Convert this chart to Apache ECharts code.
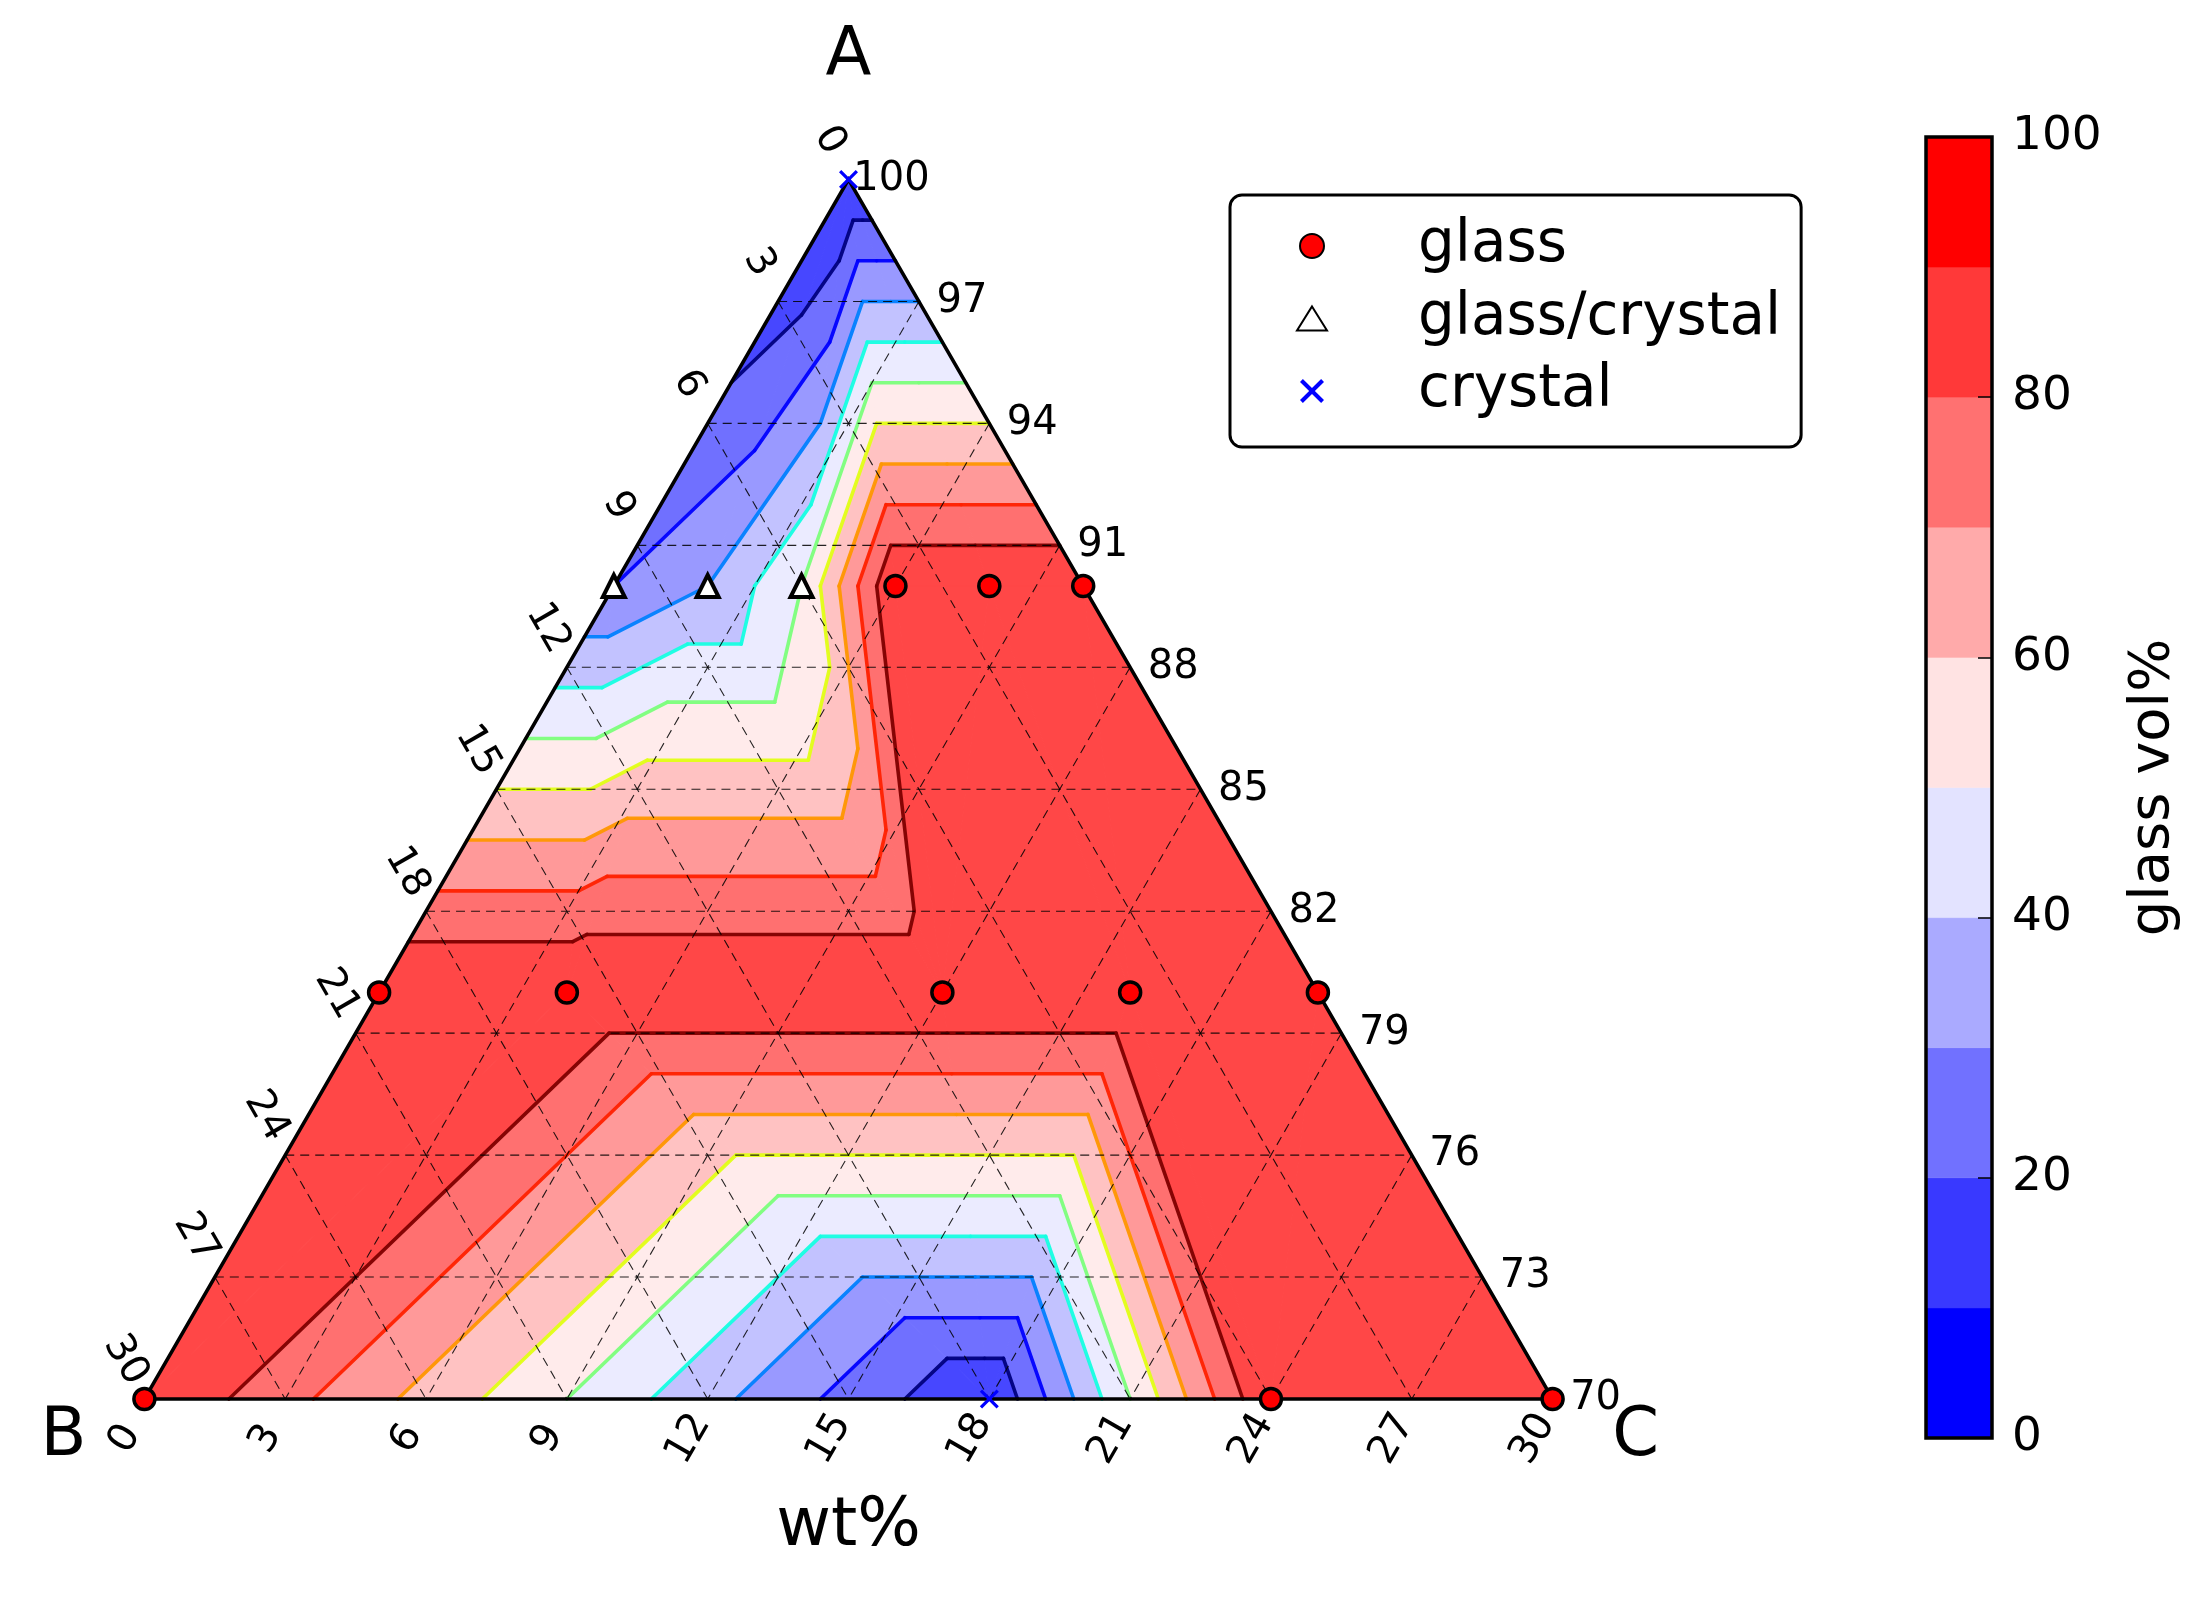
<!DOCTYPE html>
<html>
<head>
<meta charset="utf-8">
<title>glass vol% ternary</title>
<style>
  html, body { margin: 0; padding: 0; background: #fff; }
  #chart { width: 2211px; height: 1597px; }
</style>
<script src="https://cdn.jsdelivr.net/npm/echarts@6/dist/echarts.min.js"></script>
</head>
<body>
<div id="chart"></div>
<script>
// measured compositions (wt%), A + B + C = 100
const sampleA = [100, 90, 90, 90, 90, 90, 90, 80, 80, 80, 80, 80, 70, 70, 70, 70];
const sampleB = [0, 10, 8, 6, 4, 2, 0, 20, 16, 8, 4, 0, 30, 12, 6, 0];
const sampleC = [0, 0, 2, 4, 6, 8, 10, 0, 4, 12, 16, 20, 0, 18, 24, 30];
const glassVol = [0, 20, 30, 50, 100, 100, 100, 100, 100, 100, 100, 100, 100, 0, 100, 100];
const phase = ['crystal', 'glass/crystal', 'glass/crystal', 'glass/crystal', 'glass', 'glass', 'glass',
  'glass', 'glass', 'glass', 'glass', 'glass', 'glass', 'crystal', 'glass', 'glass'];

const levels = [0, 10, 20, 30, 40, 50, 60, 70, 80, 90, 100];
const lineLevels = [10, 20, 30, 40, 50, 60, 70, 80, 90];
const ticksLeft = [0, 3, 6, 9, 12, 15, 18, 21, 24, 27, 30];      // B
const ticksRight = [100, 97, 94, 91, 88, 85, 82, 79, 76, 73, 70]; // A
const ticksBottom = [0, 3, 6, 9, 12, 15, 18, 21, 24, 27, 30];    // C
const gridSteps = [3, 6, 9, 12, 15, 18, 21, 24, 27];

// styles
const FONT = 'DejaVu Sans';
const bandBase = ['#0000ff', '#3939ff', '#7171ff', '#aaaaff', '#e3e3ff',
  '#ffe3e3', '#ffaaaa', '#ff7171', '#ff3939', '#ff0000'];   // bwr, 10 steps
const lineColors = ['#000080', '#0000ff', '#0080ff', '#15ffe2', '#7bff7b',
  '#e2ff15', '#ff9700', '#ff2100', '#800000'];              // jet
const FILL_ALPHA = 0.72;

function blend(hex, a) {
  const n = parseInt(hex.slice(1), 16);
  const ch = [(n >> 16) & 255, (n >> 8) & 255, n & 255].map(c => Math.round(c * a + 255 * (1 - a)));
  return 'rgb(' + ch.join(',') + ')';
}
const bandFill = bandBase.map(c => blend(c, FILL_ALPHA));

const H = Math.sqrt(3) / 2;
// ternary (A, C) -> cartesian, B vertex at origin, side length 30
function toXY(a, c) { return [c + (a - 70) / 2, (a - 70) * H]; }

const pts = sampleA.map((a, i) => toXY(a, sampleC[i]));

// Delaunay (Bowyer-Watson); tiny shear breaks cocircular ties the same way as the original
function delaunay(p) {
  const n = p.length;
  const all = p.map(q => [q[0] + 1e-6 * q[1], q[1]]);
  all.push([-1e4, -1e4], [1e4, -1e4], [0, 1e4]);
  const circ = t => {
    const [a, b, c] = t.map(k => all[k]);
    const d = 2 * (a[0] * (b[1] - c[1]) + b[0] * (c[1] - a[1]) + c[0] * (a[1] - b[1]));
    const a2 = a[0] * a[0] + a[1] * a[1], b2 = b[0] * b[0] + b[1] * b[1], c2 = c[0] * c[0] + c[1] * c[1];
    const ux = (a2 * (b[1] - c[1]) + b2 * (c[1] - a[1]) + c2 * (a[1] - b[1])) / d;
    const uy = (a2 * (c[0] - b[0]) + b2 * (a[0] - c[0]) + c2 * (b[0] - a[0])) / d;
    return [ux, uy, (a[0] - ux) ** 2 + (a[1] - uy) ** 2];
  };
  let tris = [[n, n + 1, n + 2]];
  for (let i = 0; i < n; i++) {
    const [px, py] = all[i];
    const keep = [], edges = [];
    tris.forEach(t => {
      const [ux, uy, r2] = circ(t);
      if ((px - ux) ** 2 + (py - uy) ** 2 < r2 - 1e-9) {
        [[t[0], t[1]], [t[1], t[2]], [t[2], t[0]]].forEach(e => {
          const k = edges.findIndex(f => (f[0] === e[1] && f[1] === e[0]) || (f[0] === e[0] && f[1] === e[1]));
          if (k >= 0) edges.splice(k, 1); else edges.push(e);
        });
      } else keep.push(t);
    });
    edges.forEach(e => keep.push([e[0], e[1], i]));
    tris = keep;
  }
  return tris.filter(t => t.every(k => k < n));
}
const triangles = delaunay(pts);

// filled bands + contour lines by linear interpolation on each triangle
function clipPoly(poly, t, above) {
  const out = [];
  for (let i = 0; i < poly.length; i++) {
    const p = poly[i], q = poly[(i + 1) % poly.length];
    const pin = above ? p[2] >= t : p[2] <= t;
    const qin = above ? q[2] >= t : q[2] <= t;
    if (pin) out.push(p);
    if (pin !== qin) {
      const f = (t - p[2]) / (q[2] - p[2]);
      out.push([p[0] + f * (q[0] - p[0]), p[1] + f * (q[1] - p[1]), t]);
    }
  }
  return out;
}
function area(poly) {
  let s = 0;
  for (let i = 0; i < poly.length; i++) {
    const p = poly[i], q = poly[(i + 1) % poly.length];
    s += p[0] * q[1] - q[0] * p[1];
  }
  return Math.abs(s / 2);
}
const bandPolys = [];
const contourSegs = [];
triangles.forEach(t => {
  const tri = t.map(k => [pts[k][0], pts[k][1], glassVol[k]]);
  for (let i = 0; i < levels.length - 1; i++) {
    const poly = clipPoly(clipPoly(tri, levels[i], true), levels[i + 1], false);
    if (poly.length >= 3 && area(poly) > 1e-9) bandPolys.push({ band: i, pts: poly });
  }
  lineLevels.forEach((L, j) => {
    const cross = [];
    for (let e = 0; e < 3; e++) {
      const p = tri[e], q = tri[(e + 1) % 3];
      if ((p[2] < L) !== (q[2] < L)) {
        const f = (L - p[2]) / (q[2] - p[2]);
        cross.push([p[0] + f * (q[0] - p[0]), p[1] + f * (q[1] - p[1])]);
      }
    }
    if (cross.length === 2 && Math.hypot(cross[0][0] - cross[1][0], cross[0][1] - cross[1][1]) > 1e-9) {
      contourSegs.push({ level: j, a: cross[0], b: cross[1] });
    }
  });
});

const gridSegs = [];
gridSteps.forEach(k => {
  gridSegs.push([toXY(70 + k, 0), toXY(70 + k, 30 - k)]); // constant A
  gridSegs.push([toXY(100 - k, k), toXY(70, k)]);         // constant C
  gridSegs.push([toXY(100 - k, 0), toXY(70, 30 - k)]);    // constant B
});

function groupSeries(z, build) {
  return {
    type: 'custom', coordinateSystem: 'cartesian2d', xAxisIndex: 0, yAxisIndex: 0,
    silent: true, clip: false, z: z, data: [[0, 0]],
    renderItem: (params, api) => ({ type: 'group', children: build(api) })
  };
}
function txt(text, x, y, rot, size) {
  return {
    type: 'text', x: x, y: y, rotation: rot,
    style: { text: text, fontSize: size, fontFamily: FONT, fill: '#000', align: 'center', verticalAlign: 'middle' }
  };
}
function phasePoints(name) {
  return pts.filter((p, i) => phase[i] === name);
}

const chart = echarts.init(document.getElementById('chart'), null, { renderer: 'canvas' });

const option = {
  animation: false,
  backgroundColor: '#fff',
  grid: [
    { left: 144.4, top: 179.5, width: 1408.2, height: 1219.5, outerBoundsMode: 'none' },
    { left: 1926, top: 137, width: 66, height: 1301, outerBoundsMode: 'none' }
  ],
  xAxis: [
    { gridIndex: 0, type: 'value', min: 0, max: 30, show: false },
    { gridIndex: 1, type: 'value', min: 0, max: 1, show: false }
  ],
  yAxis: [
    { gridIndex: 0, type: 'value', min: 0, max: 30 * H, show: false },
    {
      gridIndex: 1, type: 'value', min: 0, max: 100, interval: 20, position: 'right', z: 10,
      axisLine: { show: false, onZero: false },
      axisTick: { show: true, inside: true, length: 14, lineStyle: { color: '#000', width: 1.5 } },
      axisLabel: { fontSize: 47, color: '#000', fontFamily: FONT, margin: 20 },
      splitLine: { show: false },
      name: 'glass vol%', nameLocation: 'middle', nameRotate: 90, nameGap: 133,
      nameTextStyle: { fontSize: 56, color: '#000', fontFamily: FONT }
    }
  ],
  legend: {
    left: 1230, top: 195, orient: 'vertical',
    data: ['glass', 'glass/crystal', 'crystal'],
    selectedMode: false,
    itemWidth: 30, itemHeight: 24, itemGap: 14.5,
    padding: [22, 20, 27, 66],
    backgroundColor: '#fff', borderColor: '#000', borderWidth: 3, borderRadius: 12,
    textStyle: { fontSize: 58, fontFamily: FONT, color: '#000', lineHeight: 56, padding: [0, 0, 0, 86] }
  },
  series: [
    // contour bands
    groupSeries(1, api => bandPolys.map(bp => ({
      type: 'polygon',
      shape: { points: bp.pts.map(p => api.coord([p[0], p[1]])) },
      style: { fill: bandFill[bp.band], stroke: bandFill[bp.band], lineWidth: 1, lineJoin: 'round' }
    }))),
    // contour lines
    groupSeries(2, api => contourSegs.map(s => {
      const a = api.coord(s.a), b = api.coord(s.b);
      return {
        type: 'line', shape: { x1: a[0], y1: a[1], x2: b[0], y2: b[1] },
        style: { stroke: lineColors[s.level], lineWidth: 3.6, lineCap: 'round', opacity: 0.95 }
      };
    })),
    // dashed ternary grid
    groupSeries(3, api => gridSegs.map(s => {
      const a = api.coord(s[0]), b = api.coord(s[1]);
      return {
        type: 'line', shape: { x1: a[0], y1: a[1], x2: b[0], y2: b[1] },
        style: { stroke: '#000', lineWidth: 1.1, lineDash: [9, 6], opacity: 0.85 }
      };
    })),
    // triangle outline
    groupSeries(4, api => [{
      type: 'polygon',
      shape: { points: [toXY(100, 0), toXY(70, 0), toXY(70, 30)].map(p => api.coord(p)) },
      style: { fill: 'none', stroke: '#000', lineWidth: 3.5, lineJoin: 'miter' }
    }]),
    // tick labels and corner titles
    groupSeries(5, api => {
      const out = [];
      ticksLeft.forEach(b => {
        const p = api.coord(toXY(100 - b, 0));
        out.push(txt(String(b), p[0] - 19, p[1] - 39, -Math.PI / 3, 40));
      });
      ticksRight.forEach(a => {
        const p = api.coord(toXY(a, 100 - a));
        out.push(txt(String(a), p[0] + 43, p[1], 0, 40));
      });
      ticksBottom.forEach(c => {
        const p = api.coord(toXY(70, c));
        out.push(txt(String(c), p[0] - 19, p[1] + 40, Math.PI / 3, 40));
      });
      const top = api.coord(toXY(100, 0)), bl = api.coord(toXY(70, 0)), br = api.coord(toXY(70, 30));
      out.push(txt('A', top[0], top[1] - 122, 0, 67));
      out.push(txt('B', bl[0] - 81, bl[1] + 39, 0, 67));
      out.push(txt('C', br[0] + 83, br[1] + 39, 0, 67));
      out.push(txt('wt%', (bl[0] + br[0]) / 2, bl[1] + 129, 0, 67));
      return out;
    }),
    {
      name: 'glass', type: 'scatter', z: 6, clip: false, silent: true,
      data: phasePoints('glass'), symbol: 'circle', symbolSize: 21,
      itemStyle: { color: '#ff0000', borderColor: '#000', borderWidth: 3.5, opacity: 1 }
    },
    {
      name: 'glass/crystal', type: 'scatter', z: 6, clip: false, silent: true,
      data: phasePoints('glass/crystal'), symbol: 'triangle', symbolSize: 22,
      itemStyle: { color: '#fff', borderColor: '#000', borderWidth: 4, opacity: 1 }
    },
    {
      name: 'crystal', type: 'scatter', z: 6, clip: false, silent: true,
      data: phasePoints('crystal'),
      symbol: 'path://M1.2,0 L5,3.8 L8.8,0 L10,1.2 L6.2,5 L10,8.8 L8.8,10 L5,6.2 L1.2,10 L0,8.8 L3.8,5 L0,1.2 Z',
      symbolSize: 19,
      itemStyle: { color: '#0000ff', opacity: 1 }
    },
    // colorbar
    {
      type: 'custom', coordinateSystem: 'cartesian2d', xAxisIndex: 1, yAxisIndex: 1,
      silent: true, clip: false, z: 2, data: [[0, 0]],
      renderItem: (params, api) => {
        const kids = bandBase.map((c, i) => {
          const p0 = api.coord([0, levels[i]]), p1 = api.coord([1, levels[i + 1]]);
          return {
            type: 'rect',
            shape: { x: p0[0], y: p1[1], width: p1[0] - p0[0], height: p0[1] - p1[1] },
            style: { fill: c, stroke: c, lineWidth: 0.5 }
          };
        });
        const a = api.coord([0, 0]), b = api.coord([1, 100]);
        kids.push({
          type: 'rect',
          shape: { x: a[0], y: b[1], width: b[0] - a[0], height: a[1] - b[1] },
          style: { fill: 'none', stroke: '#000', lineWidth: 3.5 }
        });
        return { type: 'group', children: kids };
      }
    }
  ]
};

chart.setOption(option);
</script>
</body>
</html>
